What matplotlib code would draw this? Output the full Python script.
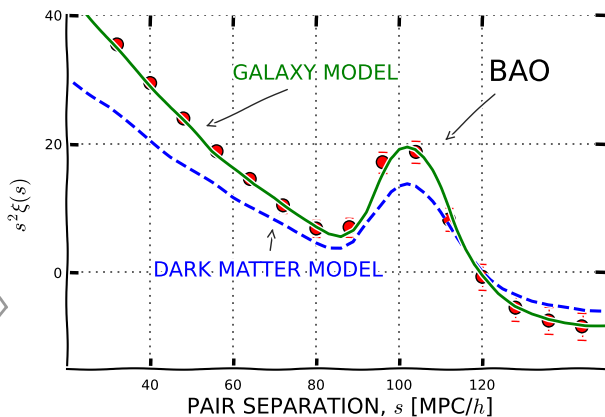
import matplotlib
matplotlib.use("Agg")
import matplotlib.pyplot as plt
from matplotlib.lines import Line2D

# ---- data ----
obs_s = [32, 40, 48, 56, 64, 72, 80, 88, 96, 104, 112, 120, 128, 136, 144]
obs_xi = [35.4, 29.4, 23.9, 18.8, 14.5, 10.4, 6.8, 7.0, 17.1, 18.7, 8.2, -0.7, -5.5, -7.5, -8.4]
obs_err = [0.6, 0.7, 0.8, 0.9, 1.0, 1.1, 1.3, 1.5, 1.6, 1.7, 1.8, 2.0, 2.0, 2.1, 2.1]

gal_s = [22, 25, 30, 35, 40, 45, 50, 55, 60, 65, 70, 75, 80, 83, 86, 89, 92, 95, 98,
         100, 102, 104, 106, 108, 110, 112, 114, 116, 118, 120, 124, 128, 132, 136,
         140, 145, 150]
gal_xi = [42.2, 40.0, 36.2, 32.6, 29.1, 25.6, 22.3, 18.9, 16.3, 13.6, 11.6, 9.3, 7.0,
          5.9, 5.5, 6.6, 9.4, 13.6, 17.6, 19.2, 19.6, 19.2, 17.9, 15.9, 13.2, 10.2, 6.8,
          3.6, 1.2, -0.5, -3.2, -5.2, -6.5, -7.4, -7.9, -8.2, -8.2]

dm_s = [21.5, 25, 30, 35, 40, 45, 50, 55, 60, 65, 70, 75, 80, 83, 86, 89, 92, 95, 98,
        100, 102, 104, 106, 108, 110, 112, 114, 116, 118, 120, 122, 125, 128, 132, 136,
        140, 145, 150]
dm_xi = [29.5, 27.9, 25.8, 23.1, 20.5, 18.0, 15.9, 13.9, 11.7, 10.0, 8.1, 6.3, 4.7,
         3.9, 3.8, 4.7, 7.4, 10.0, 12.6, 13.5, 13.8, 13.4, 12.3, 11.0, 9.4, 7.6, 5.6,
         3.5, 1.7, 0.0, -1.2, -2.5, -3.3, -4.4, -5.1, -5.5, -5.9, -5.9]

x_ticks = [40, 60, 80, 100, 120]
y_ticks = [0, 20, 40]

plt.xkcd(scale=0.7, length=100, randomness=2)
plt.rcParams['font.family'] = ['DejaVu Sans']
plt.rcParams['mathtext.fontset'] = 'cm'

fig = plt.figure(figsize=(6.05, 4.17), dpi=100)
ax = fig.add_axes([67 / 605, 48 / 417, 539.5 / 605, 354 / 417])

ax.plot(dm_s, dm_xi, ls='--', color='blue', lw=2.2, zorder=3)
ax.plot(gal_s, gal_xi, ls='-', color='green', lw=2.0, zorder=4)
ax.errorbar(obs_s, obs_xi, yerr=obs_err, fmt='o', color='red', ecolor='red',
            mec='black', mew=1.0, ms=9, capsize=3, elinewidth=1.0, zorder=2)

ax.set_xlim(20, 150)
ax.set_ylim(-15, 40)
ax.set_xticks(x_ticks)
ax.set_yticks(y_ticks)
ax.tick_params(direction='in', top=True, right=True, length=8, width=2.5,
               labelsize=10)
ax.tick_params(axis='x', pad=7)
ax.spines['top'].set_visible(False)
ax.spines['right'].set_visible(False)
ax.grid(True, color='0.3', lw=1.3, ls=(0, (1, 3)))
for gl in ax.get_xgridlines() + ax.get_ygridlines():
    gl.set_sketch_params(scale=None)

ax.set_xlabel(r'PAIR SEPARATION, $s$ [MPC/$h$]', fontsize=15.5)
ax.xaxis.set_label_coords(0.506, -0.072)
ax.set_ylabel(r'$s^2\xi(s)$', fontsize=15)
ax.yaxis.set_label_coords(-0.062, 0.463)

ax.text(79.8, 30.9, 'GALAXY MODEL', color='green', fontsize=15,
        ha='center', va='center')
ax.annotate('', xy=(52.8, 22.5), xytext=(73.7, 28.6),
            arrowprops=dict(arrowstyle='->', color='0.15', lw=1.0))

ax.text(129, 31, 'BAO', color='black', fontsize=21, ha='center', va='center')
ax.annotate('', xy=(110.6, 20.2), xytext=(123.6, 28.0),
            arrowprops=dict(arrowstyle='->', color='0.15', lw=1.0))

ax.text(68.4, 0.3, 'DARK MATTER MODEL', color='blue', fontsize=15,
        ha='center', va='center')
ax.annotate('', xy=(69.6, 7.3), xytext=(68.9, 3.0),
            arrowprops=dict(arrowstyle='->', color='0.15', lw=1.0))

# small grey chevron at the left edge of the picture
fig.add_artist(Line2D([0 / 605, 7 / 605, 0 / 605],
                      [1 - 298 / 417, 1 - 307 / 417, 1 - 316 / 417],
                      transform=fig.transFigure, color='0.6', lw=2.0))

fig.savefig('out.png', dpi=100)
